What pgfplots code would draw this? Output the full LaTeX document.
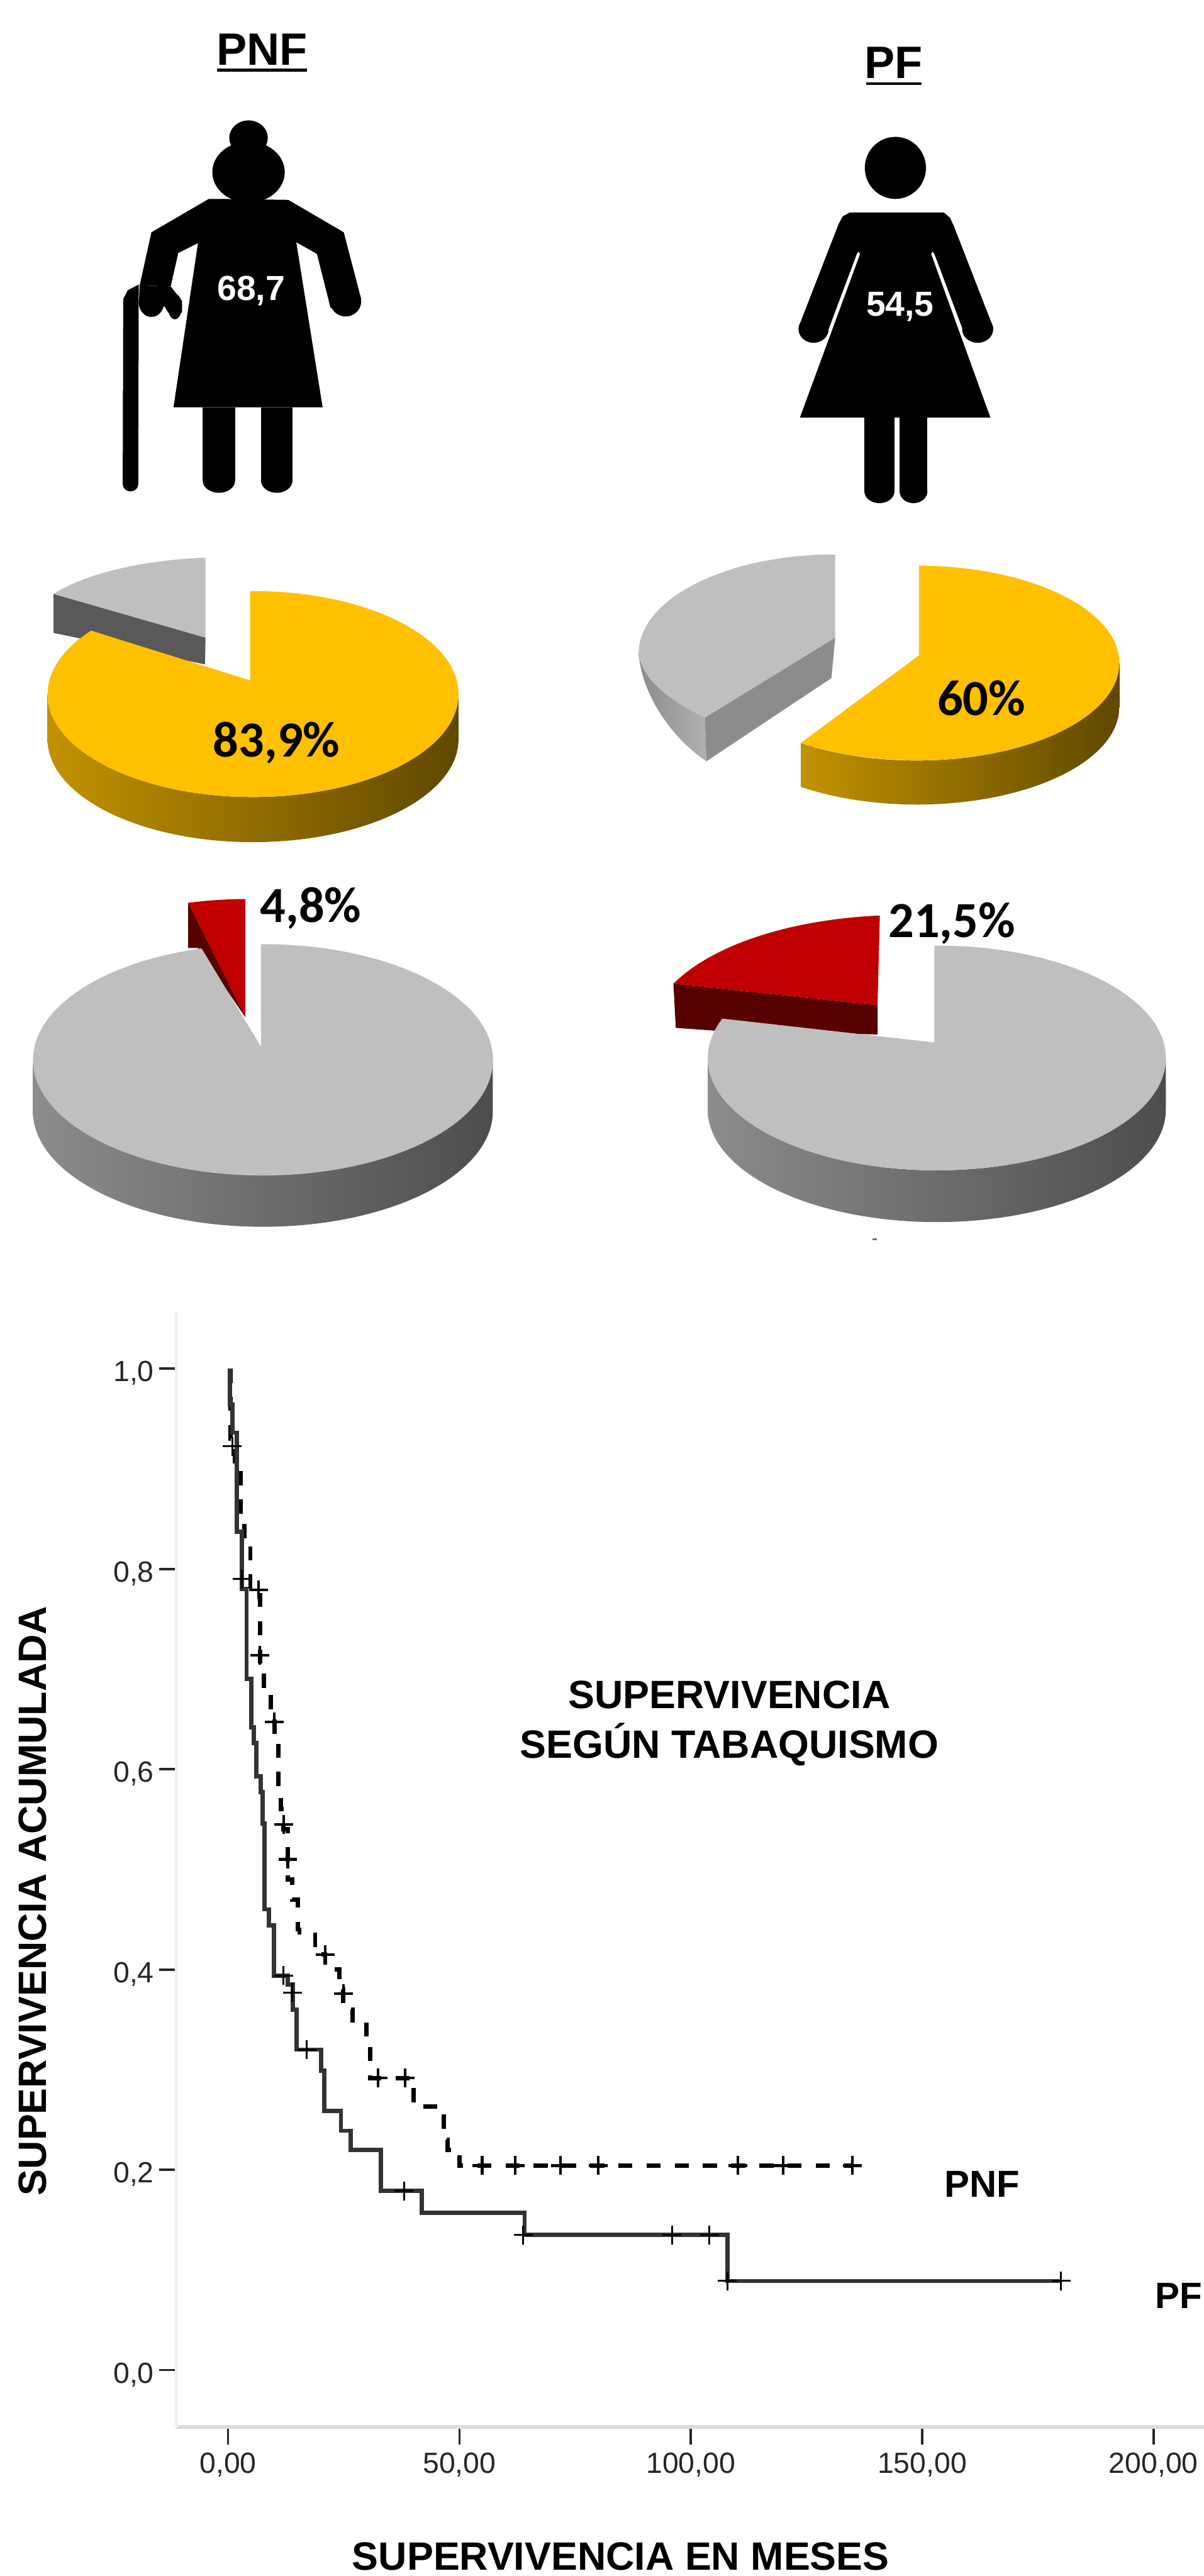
\documentclass[border=0pt]{standalone}
\usepackage{pgfplots}
\pgfplotsset{compat=1.18}
\usepackage{fontspec}
\setmainfont{Liberation Sans}
\newfontfamily\carl{Carlito}
\definecolor{yel}{HTML}{FFC000}
\definecolor{yelL}{HTML}{C29200}
\definecolor{yelM}{HTML}{EDB200}
\definecolor{yelR}{HTML}{5F4800}
\definecolor{redT}{HTML}{C00000}
\definecolor{redW}{HTML}{570000}
\definecolor{gT}{HTML}{BFBFBF}
\definecolor{gL}{HTML}{8C8C8C}
\definecolor{gM}{HTML}{B0B0B0}
\definecolor{gR}{HTML}{4D4D4D}
\definecolor{gW}{HTML}{595959}
\definecolor{gWb}{HTML}{8C8C8C}
\newcommand{\bigpct}{\carl\bfseries\fontsize{21.5}{24}\selectfont}
\newcommand{\figl}{\bfseries\fontsize{14.8}{17}\selectfont}
\newcommand{\ttl}{\bfseries\fontsize{19.3}{22}\selectfont}
\newcommand{\kml}{\bfseries\fontsize{16.8}{20}\selectfont}
\begin{document}
\begin{tikzpicture}
\useasboundingbox (0,0) rectangle (512pt,-1095.8pt);
% ---------- page axis, in pixels of the reference ----------
\begin{axis}[at={(0,0)},anchor=north west,scale only axis,width=512pt,height=1095.8pt,
  xmin=0,xmax=2560,ymin=0,ymax=5479,y dir=reverse,hide axis,clip=false]
% titles
\node[anchor=base,font=\ttl] at (557,138) {PNF};
\node[anchor=base,font=\ttl] at (1900,166) {PF};
\addplot[black,line width=1.1pt] coordinates {(462,149) (653,149)};
\addplot[black,line width=1.1pt] coordinates {(1842,178) (1959,178)};
% elderly woman
\fill[black] (528.5,293) ellipse [x radius=41,y radius=37];
\fill[black] (528.5,366) ellipse [x radius=77,y radius=65];
\addplot[fill=black,draw=none] coordinates {(469,423) (444,423) (322,494) (297,607) (363,609) (379,538) (421,517) (369,866) (686,866) (630,515) (674,540) (703,655) (768,636) (731,494) (613,425)} -- cycle;
\fill[black] (735,641) ellipse [x radius=33,y radius=32];
\fill[black] (322,643) ellipse [x radius=27,y radius=31];
\addplot[fill=black,draw=none] coordinates {(297,607) (363,609) (387,640) (387,665) (358,665) (350,652) (295,650)} -- cycle;
\fill[black] (372,652) ellipse [x radius=15,y radius=27];
\addplot[fill=black,draw=none] coordinates {(261,1030) (294,1030) (295,605) (272,617) (262,636)} -- cycle;
\fill[black] (277.5,1030) ellipse [x radius=16.5,y radius=15];
\addplot[fill=black,draw=none] coordinates {(431,866) (500,866) (500,1022) (431,1022)} -- cycle;
\fill[black] (465.5,1022) ellipse [x radius=34.5,y radius=26];
\addplot[fill=black,draw=none] coordinates {(555,866) (622,866) (622,1022) (555,1022)} -- cycle;
\fill[black] (588.5,1022) ellipse [x radius=33.5,y radius=26];
\node[anchor=base,text=white,font=\figl] at (534,639) {68,7};
% woman
\fill[black] (1904,357) ellipse [x radius=65,y radius=66];
\addplot[fill=black,draw=none] coordinates {(1783,477) (1698,696) (1762,700) (1822,540) (1850,500)} -- cycle;
\addplot[fill=black,draw=none] coordinates {(2028,480) (2112,696) (2047,700) (1987,540) (1960,500)} -- cycle;
\fill[black] (1730,700) ellipse [x radius=32,y radius=29];
\fill[black] (2079,700) ellipse [x radius=33,y radius=29];
\addplot[fill=black,draw=none] coordinates {(1807,452) (2007,452) (2020,463) (2028,480) (1987,530) (1980,540) (2106,888) (1701,888) (1829,540) (1822,530) (1783,477) (1792,460)} -- cycle;
\addplot[fill=black,draw=none] coordinates {(1838,888) (1902,888) (1902,1045) (1838,1045)} -- cycle;
\fill[black] (1870,1045) ellipse [x radius=32,y radius=25];
\addplot[fill=black,draw=none] coordinates {(1913,888) (1972,888) (1972,1045) (1913,1045)} -- cycle;
\fill[black] (1942.5,1045) ellipse [x radius=29.5,y radius=25];
\node[anchor=base,text=white,font=\figl] at (1914,672) {54,5};
% pie 1 (PNF, 83,9 %)
\addplot[fill=gW,draw=none] coordinates {(114,1263) (437,1356) (436,1413) (114,1346)} -- cycle;
\fill[gT] (437,1356) -- (437,1186) .. controls (320,1190) and (190,1215) .. (114,1263) -- cycle;
\shade[left color=yelL,middle color=yelM,right color=yelR] (975,1476) -- (975,1572) arc[start angle=0,end angle=180,x radius=437,y radius=219] -- (101,1476) arc[start angle=180,end angle=0,x radius=437,y radius=219] -- cycle;
\fill[yel] (532,1447) -- (532,1257) arc[start angle=-90.8,end angle=218,x radius=437,y radius=219] -- cycle;
\node[anchor=base,font=\bigpct] at (588,1609) {83,9\%};
% pie 2 (PF, 60 %)
\shade[left color=gL,right color=gM] (1358,1389) .. controls (1365,1445) and (1425,1490) .. (1499,1526) -- (1502,1619) .. controls (1430,1570) and (1365,1480) .. (1358,1389) -- cycle;
\addplot[fill=gWb,draw=none] coordinates {(1776,1356) (1499,1526) (1502,1619) (1768,1442)} -- cycle;
\fill[gT] (1776,1356) -- (1776,1179) .. controls (1546,1179) and (1358,1273) .. (1358,1389) .. controls (1365,1445) and (1425,1490) .. (1499,1526) -- cycle;
\shade[left color=yelL,middle color=yelM,right color=yelR] (2380,1410) -- (2380,1504) arc[start angle=0,end angle=125,x radius=430,y radius=207] -- (1703,1580) arc[start angle=125,end angle=0,x radius=430,y radius=207] -- cycle;
\fill[yel] (1954,1394) -- (1954,1203) arc[start angle=-89.5,end angle=125,x radius=430,y radius=207] -- cycle;
\node[anchor=base,font=\bigpct] at (2087,1521) {60\%};
% pie 3 (PNF, 4,8 %)
\fill[redT] (522,2164) -- (522,1912) .. controls (480,1912) and (440,1915) .. (400,1920) -- cycle;
\addplot[fill=redW,draw=none] coordinates {(400,1920) (400,2016) (421,2016) (522,2164)} -- cycle;
\shade[left color=gL,middle color=gM,right color=gR] (1048,2253) -- (1048,2363) arc[start angle=0,end angle=180,x radius=489,y radius=246] -- (70,2253) arc[start angle=180,end angle=0,x radius=489,y radius=246] -- cycle;
\fill[gT] (555,2226) -- (555,2008) arc[start angle=-90.5,end angle=254.5,x radius=489,y radius=246] -- cycle;
\node[anchor=base,font=\bigpct] at (661,1961) {4,8\%};
% pie 4 (PF, 21,5 %)
\fill[redT] (1866,2138) -- (1871,1947) .. controls (1690,1955) and (1520,2005) .. (1432,2092) -- cycle;
\addplot[fill=redW,draw=none] coordinates {(1432,2092) (1437,2186) (1535,2193) (1866,2200) (1866,2138)} -- cycle;
\shade[left color=gL,middle color=gM,right color=gR] (2479,2250) -- (2479,2360) arc[start angle=0,end angle=180,x radius=487,y radius=239] -- (1505,2250) arc[start angle=180,end angle=0,x radius=487,y radius=239] -- cycle;
\fill[gT] (1987,2217) -- (1987,2011) arc[start angle=-90.6,end angle=200.5,x radius=487,y radius=239] -- cycle;
\node[anchor=base,font=\bigpct] at (2024,1994) {21,5\%};
\addplot[black!55,line width=.8pt] coordinates {(1855,2636) (1865,2636)};
% text of the survival plot
\node[anchor=base,font=\kml] at (1551,3634) {SUPERVIVENCIA};
\node[anchor=base,font=\kml] at (1551,3739) {SEGÚN TABAQUISMO};
\node[anchor=base,font=\bfseries\fontsize{16}{19}\selectfont] at (2088,4672) {PNF};
\node[anchor=base,font=\bfseries\fontsize{15.6}{19}\selectfont] at (2506,4909) {PF};
\end{axis}
% ---------- survival plot ----------
\begin{axis}[at={(75pt,-558.2pt)},anchor=north west,scale only axis,width=437pt,height=474.2pt,
  xmin=-11.18,xmax=210.87,ymin=-0.0568,ymax=1.0563,clip=false,
  axis x line=bottom,axis y line=left,
  x axis line style={-,draw=black!14,line width=1.4pt},
  y axis line style={-,draw=black!5,line width=1.4pt},
  tick align=outside,major tick length=7.4pt,
  tick style={draw=black!85,line width=1pt},
  xtick={0,50,100,150,200},xticklabels={{0,00},{50,00},{100,00},{150,00},{200,00}},
  ytick={0,0.2,0.4,0.6,0.8,1},yticklabels={{0,0},{0,2},{0,4},{0,6},{0,8},{1,0}},
  tick label style={font=\fontsize{12.4}{15}\selectfont,text=black!85},
  yticklabel style={xshift=1.4pt,yshift=-2pt},
  xlabel={SUPERVIVENCIA EN MESES},ylabel={SUPERVIVENCIA ACUMULADA},
  label style={font=\bfseries\fontsize{16.8}{20}\selectfont},
  xlabel style={at={(axis description cs:0.4325,-0.1285)},anchor=base},
  ylabel style={at={(axis description cs:-0.1396,0.472)},anchor=center},
]
% PNF
\addplot[const plot,black,line width=1.8pt,dash pattern=on 6pt off 6pt] coordinates {
(0.5,1) (0.5,0.93) (1.4,0.90) (2.7,0.85) (3.5,0.83) (4.8,0.78) (6.9,0.70) (7.7,0.68) (9.2,0.655)
(10,0.635) (10.9,0.585) (11.4,0.56) (12,0.54) (12.9,0.49) (13.9,0.47) (15.1,0.44) (15.4,0.435)
(18.8,0.415) (21,0.40) (24,0.38) (24.9,0.36) (26.9,0.345) (29.9,0.325) (30.7,0.2915) (40.1,0.263)
(46.6,0.23) (47.4,0.22) (50,0.2042) (135,0.2042)};
\addplot[only marks,mark=+,mark size=4pt,black,mark options={line width=1.1pt}] coordinates {
(6.6,0.779) (6.9,0.714) (10,0.647) (12,0.545) (12.9,0.51) (21,0.415) (24.9,0.376) (32.4,0.2915) (38.2,0.2915)
(54.9,0.2042) (62,0.2042) (71.8,0.2042) (80,0.2042) (110.2,0.2042) (119.9,0.2042) (134.9,0.2042)};
% PF
\addplot[const plot,black!80,line width=1.8pt] coordinates {
(0.4,1) (0.4,0.964) (0.9,0.936) (1.9,0.837) (3,0.78) (4,0.69) (5,0.642) (5.6,0.626) (6.1,0.593)
(7.1,0.577) (7.5,0.546) (7.9,0.46) (8.8,0.444) (9.9,0.394) (12.9,0.385) (14,0.36) (14.8,0.32)
(20.1,0.299) (20.8,0.259) (24.4,0.239) (26.5,0.22) (33,0.179) (41.9,0.157) (64.1,0.135) (107.9,0.089) (180,0.089)};
\addplot[only marks,mark=+,mark size=4pt,black,mark options={line width=.8pt}] coordinates {
(0.9,0.9225) (3,0.79) (12,0.394) (13.9,0.377) (17,0.32) (38,0.179) (63.8,0.135) (95.9,0.135) (104,0.135) (107.9,0.089) (180,0.089)};
\end{axis}
\end{tikzpicture}
\end{document}
